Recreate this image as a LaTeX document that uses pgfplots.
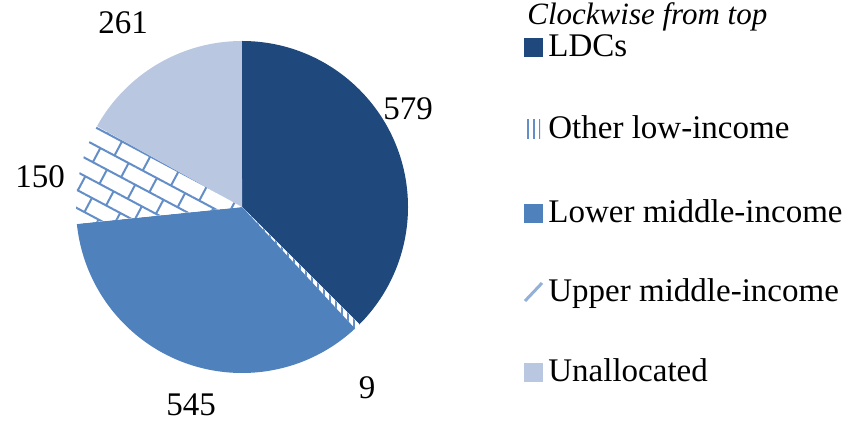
\documentclass[border=0pt]{standalone}
\usepackage{fontspec}
\setmainfont{Liberation Serif}
\usepackage{pgfplots}
\pgfplotsset{compat=1.18}
\usepackage{pgfplotstable}
\usetikzlibrary{patterns.meta}

\definecolor{ldc}{RGB}{31,73,125}
\definecolor{lmi}{RGB}{79,129,189}
\definecolor{una}{RGB}{185,199,224}
\definecolor{hatch}{RGB}{100,142,200}

\pgfplotstableread{
name value
LDCs 579
Otherlow 9
Lowermid 545
Uppermid 150
Unallocated 261
}\piedata

\tikzdeclarepattern{
  name=bricks,
  type=uncolored,
  bounding box={(-.5pt,-.5pt) and (16.5pt,16.5pt)},
  tile size={(16pt,16pt)},
  tile transformation={rotate=-28},
  code={
    \draw[line width=1pt] (0,0.5pt)--(16pt,0.5pt) (0,8.5pt)--(16pt,8.5pt)
      (4pt,0.5pt)--(4pt,8.5pt) (12pt,8.5pt)--(12pt,16.5pt);
  }
}

\newcommand\lbl{\fontsize{16.5pt}{19pt}\selectfont}
\newcommand\ttl{\fontsize{15.5pt}{18pt}\selectfont}

\begin{document}
\begin{tikzpicture}
\pgfplotstablegetelem{0}{value}\of\piedata \edef\vA{\pgfplotsretval}
\pgfplotstablegetelem{1}{value}\of\piedata \edef\vB{\pgfplotsretval}
\pgfplotstablegetelem{2}{value}\of\piedata \edef\vC{\pgfplotsretval}
\pgfplotstablegetelem{3}{value}\of\piedata \edef\vD{\pgfplotsretval}
\pgfplotstablegetelem{4}{value}\of\piedata \edef\vE{\pgfplotsretval}
\pgfmathsetmacro\tot{\vA+\vB+\vC+\vD+\vE}
\pgfmathsetmacro\aA{90}
\pgfmathsetmacro\aB{\aA-360*(\vA/\tot)}
\pgfmathsetmacro\aC{\aB-360*(\vB/\tot)}
\pgfmathsetmacro\aD{\aC-360*(\vC/\tot)}
\pgfmathsetmacro\aE{\aD-360*(\vD/\tot)}
\pgfmathsetmacro\aF{\aE-360*(\vE/\tot)}
\def\R{83pt}
\begin{axis}[
  x=0.5pt, y=0.5pt,
  xmin=0, xmax=844, ymin=0, ymax=422,
  hide axis, clip=false,
]
% slices
\fill[ldc] (axis cs:242,215) -- ++(\aA:\R) arc[start angle=\aA, end angle=\aB, radius=\R] -- cycle;
\fill[white] (axis cs:242,215) -- ++(\aB:\R) arc[start angle=\aB, end angle=\aC, radius=\R] -- cycle;
\fill[pattern={Lines[angle=90,distance=3pt,line width=0.8pt]}, pattern color=hatch] (axis cs:242,215) -- ++(\aB:\R) arc[start angle=\aB, end angle=\aC, radius=\R] -- cycle;
\fill[lmi] (axis cs:242,215) -- ++(\aC:\R) arc[start angle=\aC, end angle=\aD, radius=\R] -- cycle;
\fill[white] (axis cs:242,215) -- ++(\aD:\R) arc[start angle=\aD, end angle=\aE, radius=\R] -- cycle;
\fill[pattern=bricks, pattern color=hatch] (axis cs:242,215) -- ++(\aD:\R) arc[start angle=\aD, end angle=\aE, radius=\R] -- cycle;
\fill[una] (axis cs:242,215) -- ++(\aE:\R) arc[start angle=\aE, end angle=\aF, radius=\R] -- cycle;
% data labels
\node[font=\lbl, inner sep=0] at (axis cs:123,399.5) {\vE};
\node[font=\lbl, inner sep=0] at (axis cs:408,313) {\vA};
\node[font=\lbl, inner sep=0] at (axis cs:40,245.5) {\vD};
\node[font=\lbl, inner sep=0] at (axis cs:191,17) {\vC};
\node[font=\lbl, inner sep=0] at (axis cs:367,34) {\vB};
% legend
\node[font=\ttl\itshape, inner sep=0, anchor=base west] at (axis cs:527,397) {Clockwise from top};
\fill[ldc] (axis cs:524,365) rectangle (axis cs:543,384);
\node[font=\lbl, inner sep=0, anchor=base west] at (axis cs:548,365) {LDCs};
\fill[pattern={Lines[angle=90,distance=3pt,line width=0.8pt]}, pattern color=hatch] (axis cs:524,283) rectangle (axis cs:540,302);
\node[font=\lbl, inner sep=0, anchor=base west] at (axis cs:548,283) {Other low-income};
\fill[lmi] (axis cs:524,199) rectangle (axis cs:543,218);
\node[font=\lbl, inner sep=0, anchor=base west] at (axis cs:548,199) {Lower middle-income};
\draw[hatch!70, line width=1.5pt] (axis cs:525,121) -- (axis cs:542,139);
\node[font=\lbl, inner sep=0, anchor=base west] at (axis cs:548,120) {Upper middle-income};
\fill[una] (axis cs:524,40) rectangle (axis cs:543,59);
\node[font=\lbl, inner sep=0, anchor=base west] at (axis cs:548,40) {Unallocated};
\end{axis}
\pgfresetboundingbox
\useasboundingbox (0,0) rectangle (422pt,211pt);
\end{tikzpicture}
\end{document}
